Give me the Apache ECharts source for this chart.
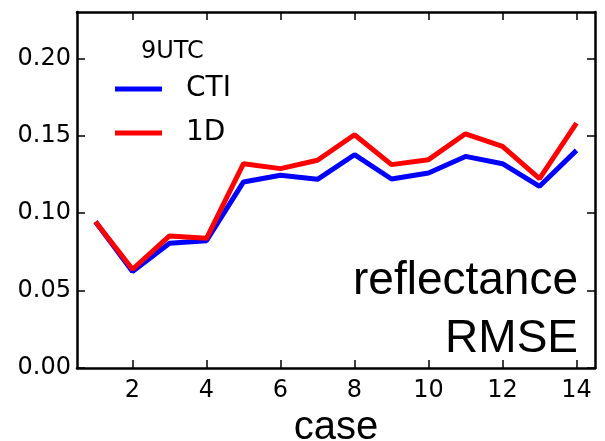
<!DOCTYPE html>
<html>
<head>
<meta charset="utf-8">
<script src="https://cdn.jsdelivr.net/npm/echarts@6/dist/echarts.min.js"></script>
<style>
  html, body { margin: 0; padding: 0; background: #fff; }
  #chart { width: 605px; height: 441px; }
</style>
</head>
<body>
<div id="chart"></div>
<script>
// Reflectance RMSE per case at 9 UTC
const cases = [1, 2, 3, 4, 5, 6, 7, 8, 9, 10, 11, 12, 13, 14];
const ctiRmse = [0.0945, 0.0623, 0.0806, 0.0822, 0.1202, 0.1245, 0.1219, 0.1378, 0.1221, 0.1260, 0.1367, 0.1320, 0.1174, 0.1406];
const oneDRmse = [0.0945, 0.0638, 0.0853, 0.0838, 0.1320, 0.1288, 0.1342, 0.1507, 0.1314, 0.1346, 0.1513, 0.1432, 0.1224, 0.1582];
const xTicks = [2, 4, 6, 8, 10, 12, 14];
const yTicks = [0, 0.05, 0.10, 0.15, 0.20];

const tickFont = 'DejaVu Sans';
const textFont = 'Liberation Sans';

const chart = echarts.init(document.getElementById('chart'), null, { renderer: 'canvas' });

const frameLine = { show: true, onZero: false, lineStyle: { color: '#000', width: 2.5 } };
const innerTick = (vals) => ({ show: true, inside: true, length: 8, customValues: vals, lineStyle: { color: '#000', width: 1.5 } });
const cornerText = (txt, top) => ({
  type: 'text', right: 605 - 578, top: top,
  style: { text: txt, align: 'right', font: '46px "Liberation Sans"', fill: '#000' }
});

chart.setOption({
  animation: false,
  backgroundColor: '#fff',
  grid: { left: 77, right: 10, top: 12, bottom: 73, containLabel: false, outerBoundsMode: 'none' },
  title: {
    text: '9UTC', left: 136, top: 35,
    textStyle: { fontFamily: tickFont, fontSize: 24, fontWeight: 'normal', color: '#000' }
  },
  legend: {
    orient: 'vertical', left: 110, top: 67, itemWidth: 47, itemHeight: 5, itemGap: 10,
    icon: 'rect',
    data: ['CTI', '1D'],
    textStyle: { fontFamily: tickFont, fontSize: 28, color: '#000', lineHeight: 34, padding: [0, 0, 0, 19] }
  },
  xAxis: [{
    type: 'value', position: 'bottom', min: 0.5, max: 14.5,
    name: 'case', nameLocation: 'middle', nameGap: 24,
    nameTextStyle: { fontFamily: textFont, fontSize: 40, color: '#000' },
    axisLine: frameLine, axisTick: innerTick(xTicks),
    axisLabel: { customValues: xTicks, margin: 11, fontFamily: tickFont, fontSize: 24, color: '#000' },
    splitLine: { show: false }
  }, {
    type: 'value', position: 'top', min: 0.5, max: 14.5,
    axisLine: frameLine, axisTick: innerTick(xTicks),
    axisLabel: { show: false }, splitLine: { show: false }
  }],
  yAxis: [{
    type: 'value', position: 'left', min: 0, max: 0.23,
    axisLine: frameLine, axisTick: innerTick(yTicks),
    axisLabel: {
      customValues: yTicks, margin: 6, fontFamily: tickFont, fontSize: 24, color: '#000',
      formatter: (v) => v.toFixed(2)
    },
    splitLine: { show: false }
  }, {
    type: 'value', position: 'right', min: 0, max: 0.23,
    axisLine: frameLine, axisTick: innerTick(yTicks),
    axisLabel: { show: false }, splitLine: { show: false }
  }],
  series: [{
    name: 'CTI', type: 'line', xAxisIndex: 0, yAxisIndex: 0,
    data: cases.map((c, i) => [c, ctiRmse[i]]),
    showSymbol: false, symbol: 'none', color: '#0000ff',
    lineStyle: { color: '#0000ff', width: 5 }
  }, {
    name: '1D', type: 'line', xAxisIndex: 0, yAxisIndex: 0,
    data: cases.map((c, i) => [c, oneDRmse[i]]),
    showSymbol: false, symbol: 'none', color: '#ff0000',
    lineStyle: { color: '#ff0000', width: 5 }
  }],
  graphic: [cornerText('reflectance', 258), cornerText('RMSE', 316)]
});
</script>
</body>
</html>
